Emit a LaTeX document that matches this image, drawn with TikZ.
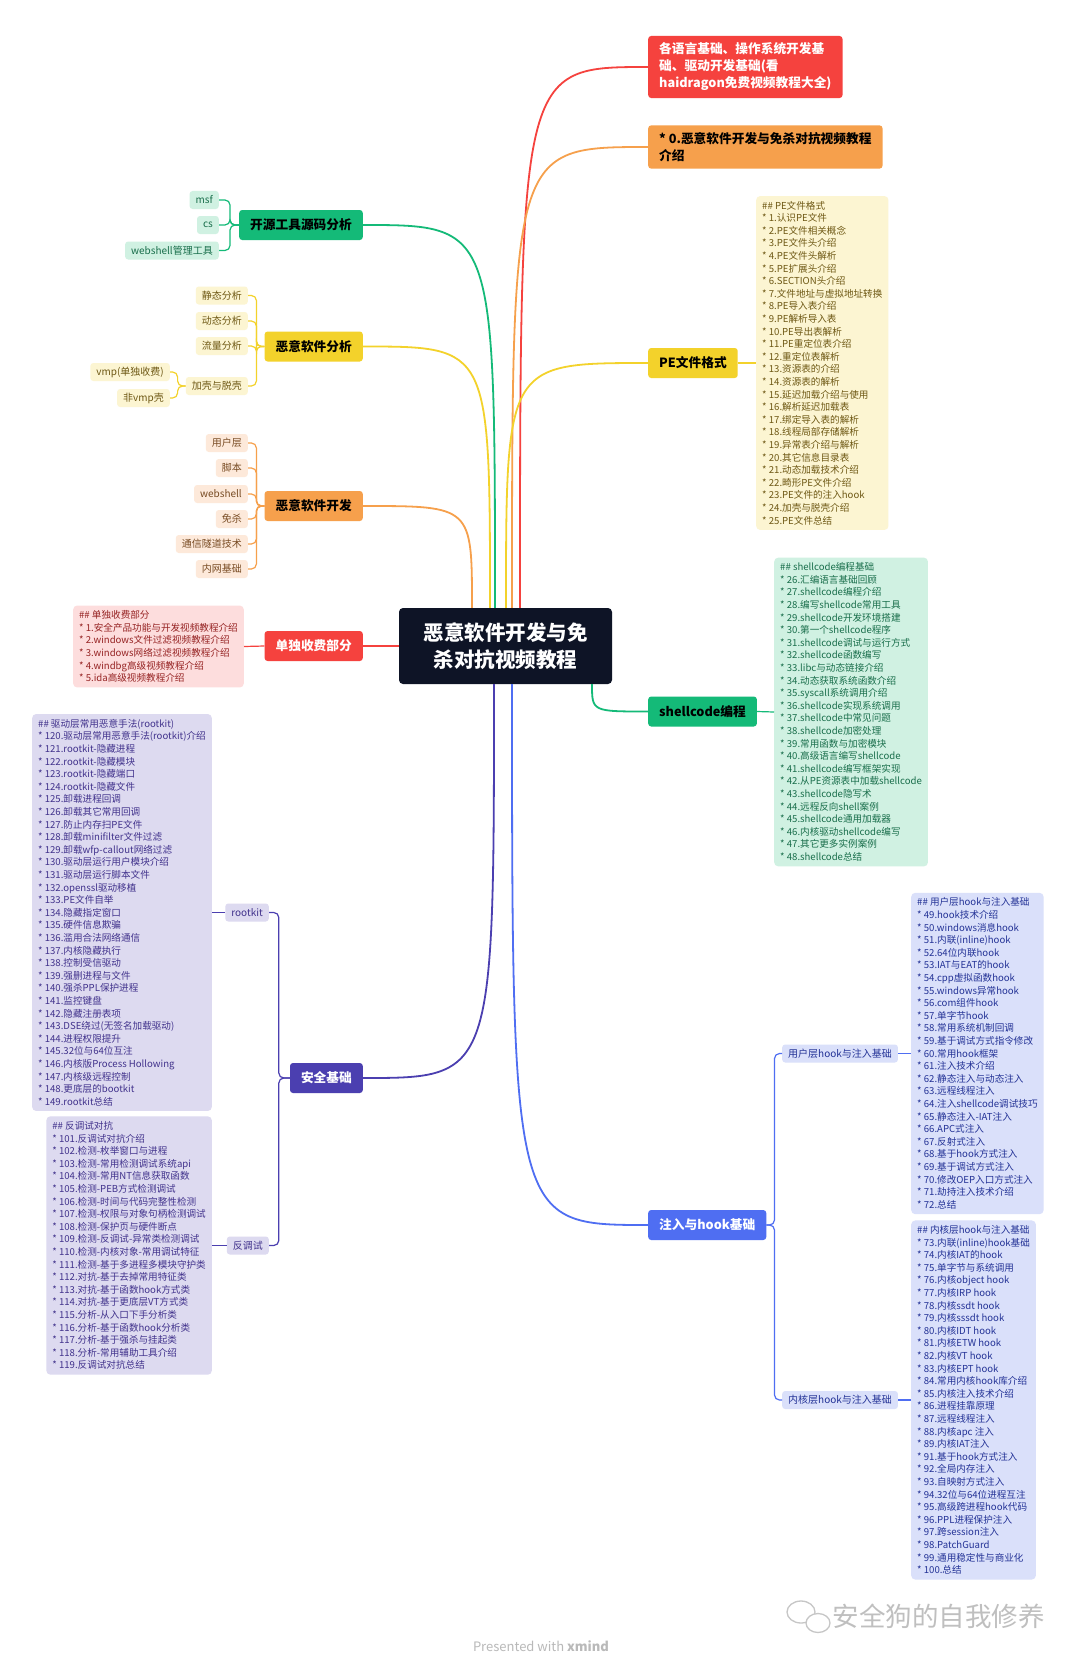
\documentclass[tikz,border=0pt]{standalone}
\usepackage{fontspec}
\setmainfont{Noto Sans CJK SC}
\usepackage{xcolor}
\usepackage{tikz}
\usetikzlibrary{positioning}
\definecolor{Ink}{RGB}{14,20,38}
\definecolor{Red}{RGB}{245,66,62}
\definecolor{Orange}{RGB}{246,160,76}
\definecolor{Yellow}{RGB}{243,210,43}
\definecolor{Green}{RGB}{20,186,120}
\definecolor{Blue}{RGB}{79,110,242}
\definecolor{Purple}{RGB}{75,63,176}
\definecolor{RedSoft}{RGB}{253,221,221}
\definecolor{OrangeSoft}{RGB}{253,233,218}
\definecolor{YellowSoft}{RGB}{252,245,210}
\definecolor{GreenSoft}{RGB}{208,241,226}
\definecolor{BlueSoft}{RGB}{218,224,250}
\definecolor{PurpleSoft}{RGB}{221,218,240}
\definecolor{RedText}{RGB}{150,35,35}
\definecolor{OrangeText}{RGB}{120,75,35}
\definecolor{YellowText}{RGB}{110,88,20}
\definecolor{GreenText}{RGB}{25,110,75}
\definecolor{BlueText}{RGB}{35,50,150}
\definecolor{PurpleText}{RGB}{65,50,140}

\tikzset{
  ctrbox/.style={fill=Ink,text=white,rounded corners=4pt,align=center,
    minimum width=213pt,minimum height=76pt,
    font=\fontsize{20.5}{27.6}\selectfont\bfseries},
  main/.style={rounded corners=3pt,inner xsep=11pt,inner ysep=0pt,
    minimum height=30pt,font=\fontsize{12.7}{17}\selectfont\bfseries},
  leaf/.style={rounded corners=3pt,inner xsep=6pt,inner ysep=0pt,
    minimum height=18pt,font=\fontsize{10}{12}\selectfont},
  notes/.style={rounded corners=4pt,inner xsep=6pt,inner ysep=5pt,align=left,
    font=\fontsize{9.6}{12.6}\selectfont},
  link/.style={line width=1.8pt},
  twig/.style={line width=1.2pt,rounded corners=5pt},
}

\begin{document}
\begin{tikzpicture}[x=1pt,y=-1pt]
  \path[use as bounding box,fill=white] (0,0) rectangle (1080,1664);

  % centre topic
  \node[ctrbox] (ctr) at (505.5,646) {恶意软件开发与免\\杀对抗视频教程};

  % right branches
  \node[main,fill=Red,text=white,anchor=west,align=left,inner ysep=7pt] (base) at (648,67)
    {各语言基础、操作系统开发基\\础、驱动开发基础(看\\haidragon免费视频教程大全)};
  \node[main,fill=Orange,anchor=west,align=left,inner ysep=7pt] (intro) at (648,147)
    {* 0.恶意软件开发与免杀对抗视频教程\\介绍};
  \node[main,fill=Yellow,anchor=west] (pe) at (648,363) {PE文件格式};
  \node[main,fill=Green,anchor=west] (sc) at (648,711.5) {shellcode编程};
  \node[main,fill=Blue,text=white,anchor=west] (hook) at (648,1225) {注入与hook基础};

  % left branches
  \node[main,fill=Green,anchor=east] (oss) at (363,225) {开源工具源码分析};
  \node[main,fill=Yellow,anchor=east] (ana) at (363,346.5) {恶意软件分析};
  \node[main,fill=Orange,anchor=east] (dev) at (363,506) {恶意软件开发};
  \node[main,fill=Red,text=white,anchor=east] (paid) at (363,646) {单独收费部分};
  \node[main,fill=Purple,text=white,anchor=east] (sec) at (363,1078) {安全基础};

  % open source tools
  \node[leaf,fill=GreenSoft,text=GreenText,anchor=east] (msf) at (219,200) {msf};
  \node[leaf,fill=GreenSoft,text=GreenText,anchor=east] (cs) at (219,225) {cs};
  \node[leaf,fill=GreenSoft,text=GreenText,anchor=east] (wsm) at (219,250.5) {webshell管理工具};

  % analysis
  \node[leaf,fill=YellowSoft,text=YellowText,anchor=east] (stat) at (248,295.5) {静态分析};
  \node[leaf,fill=YellowSoft,text=YellowText,anchor=east] (dyn) at (248,321) {动态分析};
  \node[leaf,fill=YellowSoft,text=YellowText,anchor=east] (flow) at (248,346) {流量分析};
  \node[leaf,fill=YellowSoft,text=YellowText,anchor=east] (pack) at (248,386) {加壳与脱壳};
  \node[leaf,fill=YellowSoft,text=YellowText,anchor=east] (vmp) at (170,372) {vmp(单独收费)};
  \node[leaf,fill=YellowSoft,text=YellowText,anchor=east] (nvmp) at (170,398) {非vmp壳};

  % development
  \node[leaf,fill=OrangeSoft,text=OrangeText,anchor=east] (usr) at (248,443) {用户层};
  \node[leaf,fill=OrangeSoft,text=OrangeText,anchor=east] (scr) at (248,468) {脚本};
  \node[leaf,fill=OrangeSoft,text=OrangeText,anchor=east] (wsh) at (248,494) {webshell};
  \node[leaf,fill=OrangeSoft,text=OrangeText,anchor=east] (av) at (248,519) {免杀};
  \node[leaf,fill=OrangeSoft,text=OrangeText,anchor=east] (tun) at (248,544) {通信隧道技术};
  \node[leaf,fill=OrangeSoft,text=OrangeText,anchor=east] (lan) at (248,569) {内网基础};

  % security basics
  \node[leaf,fill=PurpleSoft,text=PurpleText,anchor=east] (rk) at (269,912.5) {rootkit};
  \node[leaf,fill=PurpleSoft,text=PurpleText,anchor=east] (ad) at (269,1245.5) {反调试};

  % hook basics
  \node[leaf,fill=BlueSoft,text=BlueText,anchor=west] (uhook) at (782,1053.5) {用户层hook与注入基础};
  \node[leaf,fill=BlueSoft,text=BlueText,anchor=west] (khook) at (782,1400) {内核层hook与注入基础};

  % note lists
  \node[notes,fill=YellowSoft,text=YellowText,anchor=west] (pelist) at (756,363) {%
    \#\# PE文件格式\\
    * 1.认识PE文件\\
    * 2.PE文件相关概念\\
    * 3.PE文件头介绍\\
    * 4.PE文件头解析\\
    * 5.PE扩展头介绍\\
    * 6.SECTION头介绍\\
    * 7.文件地址与虚拟地址转换\\
    * 8.PE导入表介绍\\
    * 9.PE解析导入表\\
    * 10.PE导出表解析\\
    * 11.PE重定位表介绍\\
    * 12.重定位表解析\\
    * 13.资源表的介绍\\
    * 14.资源表的解析\\
    * 15.延迟加载介绍与使用\\
    * 16.解析延迟加载表\\
    * 17.绑定导入表的解析\\
    * 18.线程局部存储解析\\
    * 19.异常表介绍与解析\\
    * 20.其它信息目录表\\
    * 21.动态加载技术介绍\\
    * 22.畸形PE文件介绍\\
    * 23.PE文件的注入hook\\
    * 24.加壳与脱壳介绍\\
    * 25.PE文件总结};

  \node[notes,fill=GreenSoft,text=GreenText,anchor=west] (sclist) at (774,712) {%
    \#\# shellcode编程基础\\
    * 26.汇编语言基础回顾\\
    * 27.shellcode编程介绍\\
    * 28.编写shellcode常用工具\\
    * 29.shellcode开发环境搭建\\
    * 30.第一个shellcode程序\\
    * 31.shellcode调试与运行方式\\
    * 32.shellcode函数编写\\
    * 33.libc与动态链接介绍\\
    * 34.动态获取系统函数介绍\\
    * 35.syscall系统调用介绍\\
    * 36.shellcode实现系统调用\\
    * 37.shellcode中常见问题\\
    * 38.shellcode加密处理\\
    * 39.常用函数与加密模块\\
    * 40.高级语言编写shellcode\\
    * 41.shellcode编写框架实现\\
    * 42.从PE资源表中加载shellcode\\
    * 43.shellcode隐写术\\
    * 44.远程反向shell案例\\
    * 45.shellcode通用加载器\\
    * 46.内核驱动shellcode编写\\
    * 47.其它更多实例案例\\
    * 48.shellcode总结};

  \node[notes,fill=BlueSoft,text=BlueText,anchor=west] (ulist) at (911,1053.5) {%
    \#\# 用户层hook与注入基础\\
    * 49.hook技术介绍\\
    * 50.windows消息hook\\
    * 51.内联(inline)hook\\
    * 52.64位内联hook\\
    * 53.IAT与EAT的hook\\
    * 54.cpp虚拟函数hook\\
    * 55.windows异常hook\\
    * 56.com组件hook\\
    * 57.单字节hook\\
    * 58.常用系统机制回调\\
    * 59.基于调试方式指令修改\\
    * 60.常用hook框架\\
    * 61.注入技术介绍\\
    * 62.静态注入与动态注入\\
    * 63.远程线程注入\\
    * 64.注入shellcode调试技巧\\
    * 65.静态注入-IAT注入\\
    * 66.APC式注入\\
    * 67.反射式注入\\
    * 68.基于hook方式注入\\
    * 69.基于调试方式注入\\
    * 70.修改OEP入口方式注入\\
    * 71.劫持注入技术介绍\\
    * 72.总结};

  \node[notes,fill=BlueSoft,text=BlueText,anchor=west] (klist) at (911,1400) {%
    \#\# 内核层hook与注入基础\\
    * 73.内联(inline)hook基础\\
    * 74.内核IAT的hook\\
    * 75.单字节与系统调用\\
    * 76.内核object hook\\
    * 77.内核IRP hook\\
    * 78.内核ssdt hook\\
    * 79.内核sssdt hook\\
    * 80.内核IDT hook\\
    * 81.内核ETW hook\\
    * 82.内核VT hook\\
    * 83.内核EPT hook\\
    * 84.常用内核hook库介绍\\
    * 85.内核注入技术介绍\\
    * 86.进程挂靠原理\\
    * 87.远程线程注入\\
    * 88.内核apc 注入\\
    * 89.内核IAT注入\\
    * 91.基于hook方式注入\\
    * 92.全局内存注入\\
    * 93.自映射方式注入\\
    * 94.32位与64位进程互注\\
    * 95.高级跨进程hook代码\\
    * 96.PPL进程保护注入\\
    * 97.跨session注入\\
    * 98.PatchGuard\\
    * 99.通用稳定性与商业化\\
    * 100.总结};

  \node[notes,fill=RedSoft,text=RedText,anchor=east] (paidlist) at (244,646.5) {%
    \#\# 单独收费部分\\
    * 1.安全产品功能与开发视频教程介绍\\
    * 2.windows文件过滤视频教程介绍\\
    * 3.windows网络过滤视频教程介绍\\
    * 4.windbg高级视频教程介绍\\
    * 5.ida高级视频教程介绍};

  \node[notes,fill=PurpleSoft,text=PurpleText,anchor=east] (rklist) at (212,912.5) {%
    \#\# 驱动层常用恶意手法(rootkit)\\
    * 120.驱动层常用恶意手法(rootkit)介绍\\
    * 121.rootkit-隐藏进程\\
    * 122.rootkit-隐藏模块\\
    * 123.rootkit-隐藏端口\\
    * 124.rootkit-隐藏文件\\
    * 125.卸载进程回调\\
    * 126.卸载其它常用回调\\
    * 127.防止内存扫PE文件\\
    * 128.卸载minifilter文件过滤\\
    * 129.卸载wfp-callout网络过滤\\
    * 130.驱动层运行用户模块介绍\\
    * 131.驱动层运行脚本文件\\
    * 132.openssl驱动移植\\
    * 133.PE文件自举\\
    * 134.隐藏指定窗口\\
    * 135.硬件信息欺骗\\
    * 136.滥用合法网络通信\\
    * 137.内核隐藏执行\\
    * 138.控制受信驱动\\
    * 139.强删进程与文件\\
    * 140.强杀PPL保护进程\\
    * 141.监控键盘\\
    * 142.隐藏注册表项\\
    * 143.DSE绕过(无签名加载驱动)\\
    * 144.进程权限提升\\
    * 145.32位与64位互注\\
    * 146.内核版Process Hollowing\\
    * 147.内核级远程控制\\
    * 148.更底层的bootkit\\
    * 149.rootkit总结};

  \node[notes,fill=PurpleSoft,text=PurpleText,anchor=east] (adlist) at (212,1245.5) {%
    \#\# 反调试对抗\\
    * 101.反调试对抗介绍\\
    * 102.检测-枚举窗口与进程\\
    * 103.检测-常用检测调试系统api\\
    * 104.检测-常用NT信息获取函数\\
    * 105.检测-PEB方式检测调试\\
    * 106.检测-时间与代码完整性检测\\
    * 107.检测-权限与对象句柄检测调试\\
    * 108.检测-保护页与硬件断点\\
    * 109.检测-反调试-异常类检测调试\\
    * 110.检测-内核对象-常用调试特征\\
    * 111.检测-基于多进程多模块守护类\\
    * 112.对抗-基于去掉常用特征类\\
    * 113.对抗-基于函数hook方式类\\
    * 114.对抗-基于更底层VT方式类\\
    * 115.分析-从入口下手分析类\\
    * 116.分析-基于函数hook分析类\\
    * 117.分析-基于强杀与挂起类\\
    * 118.分析-常用辅助工具介绍\\
    * 119.反调试对抗总结};

  % where the main links leave the centre topic
  \coordinate (tRed) at ([xshift=14.5pt]ctr.north);
  \coordinate (tOrg) at ([xshift=6.5pt]ctr.north);
  \coordinate (tPe) at ([xshift=0.5pt]ctr.north);
  \coordinate (tOss) at ([xshift=-10.5pt]ctr.north);
  \coordinate (tAna) at ([xshift=-15.5pt]ctr.north);
  \coordinate (tDev) at ([xshift=-33.5pt]ctr.north);
  \coordinate (bSec) at ([xshift=-11.5pt]ctr.south);
  \coordinate (bHook) at ([xshift=6.5pt]ctr.south);
  \coordinate (bSc) at ([xshift=86.5pt]ctr.south);

  \draw[link,Red] (tRed) .. controls (tRed |- base.west) .. (base.west);
  \draw[link,Orange] (tOrg) .. controls (tOrg |- intro.west) .. (intro.west);
  \draw[link,Yellow] (tPe) .. controls (tPe |- pe.west) .. (pe.west);
  \draw[link,Green] (tOss) .. controls (tOss |- oss.east) .. (oss.east);
  \draw[link,Yellow] (tAna) .. controls (tAna |- ana.east) .. (ana.east);
  \draw[link,Orange] (tDev) .. controls (tDev |- dev.east) .. (dev.east);
  \draw[link,Red] (ctr.west) -- (paid.east);
  \draw[link,Purple] (bSec) .. controls (bSec |- sec.east) .. (sec.east);
  \draw[link,Blue] (bHook) .. controls (bHook |- hook.west) .. (hook.west);
  \draw[link,Green] (bSc) .. controls (bSc |- sc.west) .. (sc.west);

  % brackets to the sub topics
  \foreach \c in {msf,cs,wsm}
    \draw[twig,Green] (oss.west) -- ++(-9,0) |- (\c.east);
  \foreach \c in {stat,dyn,flow,pack}
    \draw[twig,Yellow] (ana.west) -- ++(-8,0) |- (\c.east);
  \foreach \c in {vmp,nvmp}
    \draw[twig,Yellow] (pack.west) -- ++(-8,0) |- (\c.east);
  \foreach \c in {usr,scr,wsh,av,tun,lan}
    \draw[twig,Orange] (dev.west) -- ++(-8,0) |- (\c.east);
  \foreach \c in {rk,ad}
    \draw[twig,Purple] (sec.west) -- ++(-11,0) |- (\c.east);
  \foreach \c in {uhook,khook}
    \draw[twig,Blue] (hook.east) -- ++(8,0) |- (\c.west);

  \draw[twig,Yellow] (pe.east) -- (pelist.west);
  \draw[twig,Green] (sc.east) -- (sclist.west);
  \draw[twig,Red] (paid.west) -- (paidlist.east);
  \draw[twig,Purple] (rk.west) -- (rklist.east);
  \draw[twig,Purple] (ad.west) -- (adlist.east);
  \draw[twig,Blue] (uhook.east) -- (ulist.west);
  \draw[twig,Blue] (khook.east) -- (klist.west);

  % watermark
  \draw[gray!45,line width=1.3pt] (801,1612) ellipse (14 and 11);
  \draw[gray!45,line width=1.3pt,fill=white] (818,1623) ellipse (12 and 9.5);
  \node[text=gray!50,font=\fontsize{26.5}{30}\selectfont,anchor=west] (mark) at (829,1616) {安全狗的自我修养};
  \node[text=gray!55,font=\fontsize{13}{15}\selectfont] (xm) at (541,1646) {Presented with \textbf{xmind}};
\end{tikzpicture}
\end{document}
